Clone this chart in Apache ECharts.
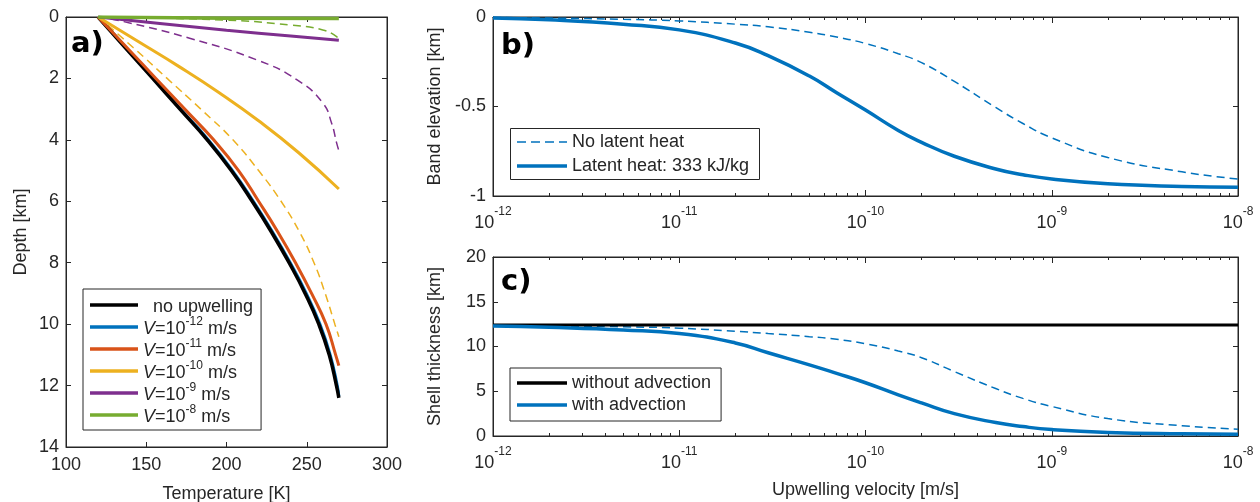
<!DOCTYPE html>
<html>
<head>
<meta charset="utf-8">
<script src="https://cdn.jsdelivr.net/npm/echarts@6/dist/echarts.min.js"></script>
<style>
  html, body { margin: 0; padding: 0; background: #fff; }
  #chart { width: 1260px; height: 502px; }
</style>
</head>
<body>
<div id="chart"></div>
<script>
// ---- panel a) temperature [K] vs depth [km] ----
var noUpT   = [120, 137, 154, 171, 188, 203, 216, 228, 239, 249, 257.5, 264, 268.5, 270];
var noUpZ   = [0, 1, 2, 3, 4, 5, 6, 7, 8, 9, 10, 11, 12, 12.4];
var v12T    = [120, 137.5, 154.5, 171.5, 188.7, 203.7, 216.7, 228.7, 239.7, 249.7, 258.2, 264.6, 269, 270];
var v12Z    = [0, 1, 2, 3, 4, 5, 6, 7, 8, 9, 10, 11, 12, 12.35];
var v11T    = [120, 138, 156, 174, 192, 207.5, 220, 232, 243, 253, 262, 268, 270];
var v11Z    = [0, 1, 2, 3, 4, 5, 6, 7, 8, 9, 10, 11, 11.35];
var v10T    = [120, 145, 170, 195, 220, 245, 270];
var v10Z    = [0, 0.8, 1.6, 2.45, 3.38, 4.42, 5.6];
var v10dT   = [120, 142, 163, 184, 204, 220, 234, 245.5, 254.5, 261.5, 267.5, 270];
var v10dZ   = [0, 1, 2, 3, 4, 5, 6, 7, 8, 9, 10, 10.41];
var v9T     = [120, 160, 200, 240, 270];
var v9Z     = [0, 0.22, 0.43, 0.62, 0.76];
var v9dT    = [120, 136, 177, 219, 244, 260, 265.5, 268.6, 270];
var v9dZ    = [0, 0.15, 0.69, 1.4, 2.05, 2.8, 3.46, 4.1, 4.35];
var v8T     = [120, 200, 270];
var v8Z     = [0, 0.04, 0.05];
var v8dT    = [120, 198, 240, 260, 268.6, 270];
var v8dZ    = [0, 0.1, 0.26, 0.42, 0.64, 0.77];

var legendA = ['no upwelling', 'V=1e-12', 'V=1e-11', 'V=1e-10', 'V=1e-9', 'V=1e-8'];
var legendAText = [' {t| no upwelling}', '{i|V}{t|=10}{s|-12}{t| m/s}', '{i|V}{t|=10}{s|-11}{t| m/s}',
                   '{i|V}{t|=10}{s|-10}{t| m/s}', '{i|V}{t|=10}{s|-9}{t| m/s}', '{i|V}{t|=10}{s|-8}{t| m/s}'];

// ---- panels b) and c): upwelling velocity [m/s] ----
var velocity   = [1e-12, 2e-12, 5e-12, 1e-11, 2e-11, 3e-11, 5e-11, 7e-11, 1e-10, 1.5e-10,
                  2e-10, 3e-10, 5e-10, 7e-10, 1e-9, 2e-9, 5e-9, 1e-8];
var bandLatent = [-0.005, -0.015, -0.04, -0.072, -0.145, -0.216, -0.33, -0.423, -0.52, -0.634,
                  -0.7, -0.778, -0.849, -0.881, -0.905, -0.932, -0.947, -0.951];
var bandNoLat  = [-0.003, -0.006, -0.013, -0.022, -0.04, -0.055, -0.085, -0.112, -0.148, -0.205,
                  -0.255, -0.36, -0.505, -0.595, -0.675, -0.785, -0.865, -0.905];
var shellAdv   = [12.3, 12.15, 11.85, 11.45, 10.4, 9.3, 7.95, 7.0, 5.95, 4.6,
                  3.7, 2.5, 1.5, 1.05, 0.72, 0.4, 0.24, 0.19];
var shellAdvD  = [12.35, 12.3, 12.2, 12.05, 11.7, 11.45, 11.1, 10.8, 10.3, 9.5,
                  8.75, 7.2, 5.3, 4.2, 3.3, 1.95, 1.15, 0.75];
var noAdvV     = [1e-12, 1e-8];
var noAdvShell = [12.4, 12.4];

var decadeLabels = { '-12': '-12', '-11': '-11', '-10': '-10', '-9': '-9', '-8': '-8' };

function pairs(xs, ys) {
    return xs.map(function (x, i) { return [x, ys[i]]; });
}

// minor tick positions on the log axes (2..9 x each decade)
var minorTicks = [];
for (var e = -12; e < -8; e++) {
    for (var k = 2; k < 10; k++) minorTicks.push(k * Math.pow(10, e));
}

var ink = '#262626';
var font = 'Liberation Sans, Arial, Helvetica, sans-serif';
var blue = '#0072BD', orange = '#D95319', yellow = '#EDB120', purple = '#7E2F8E', green = '#77AC30';
var solidIcon = 'path://M0,0H50V1H0Z';
var dashIcon = 'path://M0,0H9V1H0Z M14,0H23V1H14Z M28,0H37V1H28Z M42,0H50V1H42Z';

var supRich = {
    b: { fontSize: 18, fontFamily: font, color: ink, lineHeight: 26, verticalAlign: 'bottom' },
    s: { fontSize: 12, fontFamily: font, color: ink, lineHeight: 14, verticalAlign: 'top' }
};

function valAxis(grid, pos, min, max, interval, showLabels, extra) {
    var ax = {
        type: 'value', gridIndex: grid, position: pos, min: min, max: max, interval: interval,
        axisLine: { show: true, onZero: false, lineStyle: { color: ink, width: 1 } },
        axisTick: { show: true, inside: true, length: 5, lineStyle: { color: ink } },
        axisLabel: { show: showLabels, color: ink, fontSize: 18, fontFamily: font, margin: 7 },
        splitLine: { show: false }
    };
    return Object.assign(ax, extra || {});
}

function logAxis(grid, pos, minor, showLabels, extra) {
    var ax = {
        type: 'log', logBase: 10, gridIndex: grid, position: pos, min: 1e-12, max: 1e-8,
        axisLine: { show: !minor, onZero: false, lineStyle: { color: ink, width: 1 } },
        axisTick: { show: true, inside: true, length: minor ? 3 : 6, lineStyle: { color: ink } },
        axisLabel: {
            show: showLabels, margin: 10,
            formatter: function (v) {
                return '{b|10}{s|' + decadeLabels[String(Math.round(Math.log10(v)))] + '}';
            },
            rich: supRich
        },
        splitLine: { show: false }
    };
    if (minor) ax.axisTick.customValues = minorTicks;
    return Object.assign(ax, extra || {});
}

var nameStyle = { color: ink, fontSize: 18, fontFamily: font };

function curve(name, xs, ys, color, width, dashed, xi, yi) {
    return {
        name: name, type: 'line', xAxisIndex: xi, yAxisIndex: yi,
        data: pairs(xs, ys), symbol: 'none', showSymbol: false, smooth: 0.5,
        lineStyle: { color: color, width: width, type: dashed ? [8, 5] : 'solid' },
        itemStyle: { color: color }, silent: true, animation: false
    };
}

function legendBox(names, icon, h, left, top, padding, lineHeight, border) {
    return {
        data: names.map(function (n) { return { name: n, icon: icon }; }),
        orient: 'vertical', left: left, top: top,
        itemWidth: 50, itemHeight: h, itemGap: 0, padding: padding,
        symbolKeepAspect: false, selectedMode: false,
        itemStyle: { borderWidth: 0 },
        backgroundColor: border ? '#fff' : 'transparent',
        borderColor: ink, borderWidth: border ? 1 : 0, borderRadius: 0,
        textStyle: { color: ink, fontSize: 18, fontFamily: font, lineHeight: lineHeight }
    };
}

var legendAOpt = legendBox(legendA, solidIcon, 3.5, 83, 289, [5, 8, 4, 7], 22, true);
legendAOpt.itemWidth = 48;
legendAOpt.formatter = function (name) { return legendAText[legendA.indexOf(name)]; };
legendAOpt.textStyle.rich = {
    t: { fontSize: 18, fontFamily: font, color: ink, lineHeight: 22, verticalAlign: 'bottom' },
    i: { fontSize: 18, fontFamily: font, color: ink, fontStyle: 'italic', lineHeight: 22, verticalAlign: 'bottom' },
    s: { fontSize: 12, fontFamily: font, color: ink, lineHeight: 14, verticalAlign: 'top' }
};

var gridBase = { show: true, borderColor: ink, borderWidth: 1, containLabel: false, outerBoundsMode: 'none' };

var option = {
    backgroundColor: '#fff',
    animation: false,
    grid: [
        Object.assign({ left: 66, top: 17, width: 321, height: 430 }, gridBase),
        Object.assign({ left: 493, top: 17, width: 745, height: 179 }, gridBase),
        Object.assign({ left: 493, top: 257, width: 745, height: 179 }, gridBase)
    ],
    xAxis: [
        valAxis(0, 'bottom', 100, 300, 50, true, {
            name: 'Temperature [K]', nameLocation: 'middle', nameGap: 38, nameTextStyle: nameStyle,
            axisLabel: { color: ink, fontSize: 18, fontFamily: font, margin: 9 }
        }),
        valAxis(0, 'top', 100, 300, 50, false),
        logAxis(1, 'bottom', false, true),
        logAxis(1, 'top', false, false),
        logAxis(1, 'bottom', true, false),
        logAxis(1, 'top', true, false),
        logAxis(2, 'bottom', false, true, {
            name: 'Upwelling velocity [m/s]', nameLocation: 'middle', nameGap: 45, nameTextStyle: nameStyle
        }),
        logAxis(2, 'top', false, false),
        logAxis(2, 'bottom', true, false),
        logAxis(2, 'top', true, false)
    ],
    yAxis: [
        valAxis(0, 'left', 0, 14, 2, true, {
            inverse: true, name: 'Depth [km]', nameLocation: 'middle', nameGap: 36, nameTextStyle: nameStyle
        }),
        valAxis(0, 'right', 0, 14, 2, false, { inverse: true }),
        valAxis(1, 'left', -1, 0, 0.5, true, {
            name: 'Band elevation [km]', nameLocation: 'middle', nameGap: 49, nameTextStyle: nameStyle
        }),
        valAxis(1, 'right', -1, 0, 0.5, false),
        valAxis(2, 'left', 0, 20, 5, true, {
            name: 'Shell thickness [km]', nameLocation: 'middle', nameGap: 49, nameTextStyle: nameStyle
        }),
        valAxis(2, 'right', 0, 20, 5, false)
    ],
    legend: [
        legendAOpt,
        legendBox(['No latent heat'], dashIcon, 1.5, 510, 131, [0, 0, 0, 7], 22, false),
        legendBox(['Latent heat: 333 kJ/kg'], solidIcon, 3.5, 510, 155, [0, 0, 0, 7], 22, false),
        legendBox(['without advection', 'with advection'], solidIcon, 3.5, 510, 368, [4, 10, 5, 7], 22, true)
    ],
    graphic: [
        { type: 'rect', left: 510, top: 128, z: 3, shape: { width: 249, height: 51 },
          style: { fill: '#fff', stroke: ink, lineWidth: 1 } },
        { type: 'text', left: 71, top: 30, style: { text: 'a)', fontSize: 29, fontWeight: 900, fontFamily: 'DejaVu Sans', fill: '#000' } },
        { type: 'text', left: 501, top: 32, style: { text: 'b)', fontSize: 29, fontWeight: 900, fontFamily: 'DejaVu Sans', fill: '#000' } },
        { type: 'text', left: 501, top: 268, style: { text: 'c)', fontSize: 29, fontWeight: 900, fontFamily: 'DejaVu Sans', fill: '#000' } }
    ],
    series: [
        // panel a
        curve('V=1e-10 (no latent heat)', v10dT, v10dZ, yellow, 1.5, true, 0, 0),
        curve('V=1e-9 (no latent heat)', v9dT, v9dZ, purple, 1.5, true, 0, 0),
        curve('V=1e-8 (no latent heat)', v8dT, v8dZ, green, 1.5, true, 0, 0),
        curve('V=1e-12', v12T, v12Z, blue, 3, false, 0, 0),
        curve('no upwelling', noUpT, noUpZ, '#000', 3.5, false, 0, 0),
        curve('V=1e-11', v11T, v11Z, orange, 3, false, 0, 0),
        curve('V=1e-10', v10T, v10Z, yellow, 3, false, 0, 0),
        curve('V=1e-9', v9T, v9Z, purple, 3, false, 0, 0),
        curve('V=1e-8', v8T, v8Z, green, 3.5, false, 0, 0),
        // panel b
        curve('No latent heat', velocity, bandNoLat, blue, 1.5, true, 2, 2),
        curve('Latent heat: 333 kJ/kg', velocity, bandLatent, blue, 3.5, false, 2, 2),
        // panel c
        curve('with advection (no latent heat)', velocity, shellAdvD, blue, 1.5, true, 6, 4),
        curve('without advection', noAdvV, noAdvShell, '#000', 3, false, 6, 4),
        curve('with advection', velocity, shellAdv, blue, 3.5, false, 6, 4)
    ]
};

var chart = echarts.init(document.getElementById('chart'));
chart.setOption(option);

window.addEventListener('resize', function () {
    chart.resize();
});
</script>
</body>
</html>
